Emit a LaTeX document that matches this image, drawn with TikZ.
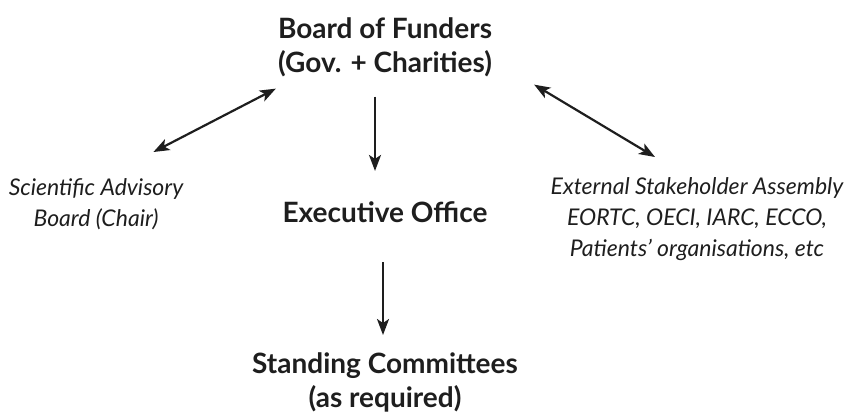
\documentclass[tikz,border=0pt]{standalone}
\usepackage{fontspec}
\setmainfont{Lato}
\usepackage{tikz}
\usetikzlibrary{arrows.meta, positioning}
\definecolor{ink}{RGB}{30,30,30}

\begin{document}
\begin{tikzpicture}[x=1pt, y=-1pt, inner sep=0pt, text=ink,
    boldtxt/.style={font=\fontsize{28}{34}\selectfont\bfseries, align=center},
    itxt/.style={font=\fontsize{23}{31}\selectfont\itshape, align=center},
    oneway/.style={draw=ink, line width=2.2pt, -{Stealth[length=16pt, width=12pt, inset=4pt]}},
    twoway/.style={draw=ink, line width=2.2pt, {Stealth[length=16pt, width=12pt, inset=4pt]}-{Stealth[length=16pt, width=12pt, inset=4pt]}}]
  \useasboundingbox (0,0) rectangle (853,413);
  % Nodes
  \node[boldtxt, anchor=north] (funders) at (385,17) {Board of Funders\\(Gov. + Charities)};
  \node[boldtxt, anchor=base] (exec) at (385,222) {Executive Office};
  \node[boldtxt, anchor=north] (committees) at (385,352) {Standing Committees\\(as required)};
  \node[itxt, anchor=north] (sab) at (96,178) {Scientific Advisory\\Board (Chair)};
  \node[itxt, anchor=north] (esa) at (697,177) {External Stakeholder Assembly\\EORTC, OECI, IARC, ECCO,\\Patients' organisations, etc};
  % Links
  \draw[oneway] ([xshift=-10pt, yshift=-20pt]funders.south) -- ([xshift=-10pt, yshift=30pt]exec.north);
  \draw[twoway] ([xshift=-30pt, yshift=26pt]sab.north east) -- ([xshift=-2pt, yshift=-12pt]funders.south west);
  \draw[twoway] ([xshift=42pt, yshift=-8pt]funders.south east) -- ([xshift=-42pt, yshift=20pt]esa.north);
  \draw[oneway] ([xshift=-2pt, yshift=-40pt]exec.south) -- ([xshift=-2pt, yshift=17pt]committees.north);
\end{tikzpicture}
\end{document}
